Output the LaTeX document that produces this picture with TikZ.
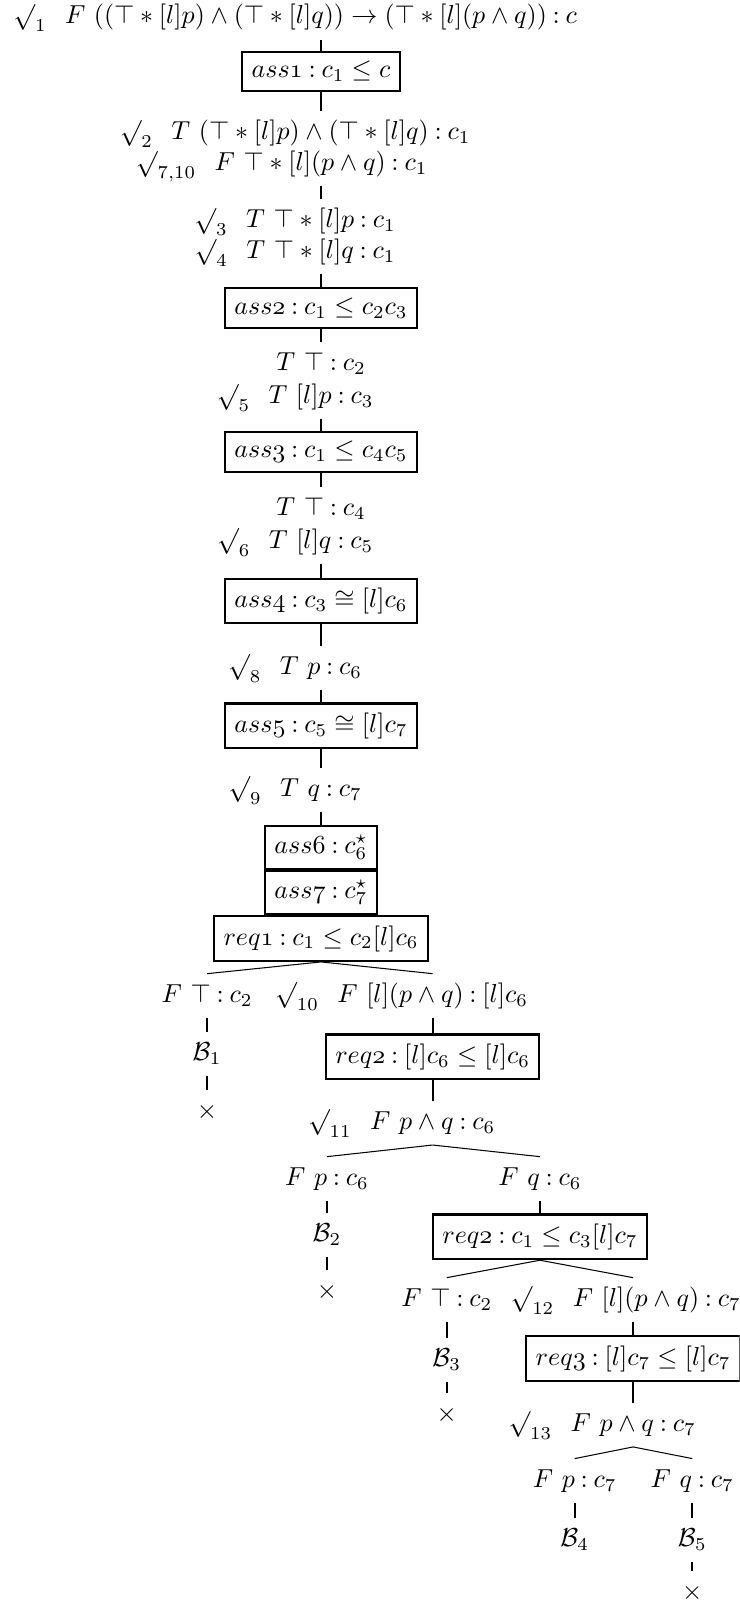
\documentclass[tikz,border=0pt]{standalone}
\usetikzlibrary{positioning}
\newcommand{\chkd}[1]{{\smash{\surd}\vphantom{)}}_{#1}}
\newcommand{\tcol}{\mathbin{:}}
\tikzset{
  fml/.style={inner sep=3.33pt, text height=7.5pt, text depth=2.5pt},
  chkl/.style={inner sep=3.33pt},
  asmbox/.style={draw, line width=0.8pt, inner sep=3.6pt},
  stemline/.style={line width=0.8pt},
  forkline/.style={line width=0.4pt}
}
\begin{document}
\begin{tikzpicture}[x=1.0cm,y=1.0cm]
\useasboundingbox (0,0) rectangle (10.00,-21.70);
\clip (0,0) rectangle (10.00,-21.70);
% main branch
\node[fml] (f1) at (4.34,-0.235) {$F\ ((\top*[l]p)\wedge(\top*[l]q))\rightarrow(\top*[l](p\wedge q))\tcol c$};
\node[chkl, base left=0pt of f1] {$\chkd{1}$};
\node[asmbox] (a1) at (4.34,-0.968) {$ass\mathnormal{1}\tcol c_1\leq c$};
\node[fml] (f2a) at (4.34,-1.798) {$T\ (\top*[l]p)\wedge(\top*[l]q)\tcol c_1$};
\node[chkl, base left=0pt of f2a] {$\chkd{2}$};
\node[fml] (f2b) at (4.34,-2.217) {$F\ \top*[l](p\wedge q)\tcol c_1$};
\node[chkl, base left=0pt of f2b] {$\chkd{7,10}$};
\node[fml] (f3a) at (4.34,-2.988) {$T\ \top*[l]p\tcol c_1$};
\node[chkl, base left=0pt of f3a] {$\chkd{3}$};
\node[fml] (f3b) at (4.34,-3.407) {$T\ \top*[l]q\tcol c_1$};
\node[chkl, base left=0pt of f3b] {$\chkd{4}$};
\node[asmbox] (a2) at (4.34,-4.164) {$ass\mathnormal{2}\tcol c_1\leq c_2c_3$};
\node[fml] (f4a) at (4.34,-4.921) {$T\ \top\tcol c_2$};
\node[fml] (f4b) at (4.34,-5.367) {$T\ [l]p\tcol c_3$};
\node[chkl, base left=0pt of f4b] {$\chkd{5}$};
\node[asmbox] (a3) at (4.34,-6.110) {$ass\mathnormal{3}\tcol c_1\leq c_4c_5$};
\node[fml] (f5a) at (4.34,-6.881) {$T\ \top\tcol c_4$};
\node[fml] (f5b) at (4.34,-7.327) {$T\ [l]q\tcol c_5$};
\node[chkl, base left=0pt of f5b] {$\chkd{6}$};
\node[asmbox] (a4) at (4.34,-8.125) {$ass\mathnormal{4}\tcol c_3\cong[l]c_6$};
\node[fml] (f6) at (4.34,-9.030) {$T\ p\tcol c_6$};
\node[chkl, base left=0pt of f6] {$\chkd{8}$};
\node[asmbox] (a5) at (4.34,-9.814) {$ass\mathnormal{5}\tcol c_5\cong[l]c_7$};
\node[fml] (f7) at (4.34,-10.679) {$T\ q\tcol c_7$};
\node[chkl, base left=0pt of f7] {$\chkd{9}$};
\node[asmbox] (a6) at (4.34,-11.457) {$ass\mathnormal{6}\tcol c_6^{\star}$};
\node[asmbox, below=0pt of a6] (a7) {$ass\mathnormal{7}\tcol c_7^{\star}$};
\node[asmbox, below=0pt of a7] (r1) {$req\mathnormal{1}\tcol c_1\leq c_2[l]c_6$};
\draw[stemline] (f1.south) -- (a1.north);
\draw[stemline] (a1.south) -- (f2a.north);
\draw[stemline] (f2b.south) -- (f3a.north);
\draw[stemline] (f3b.south) -- (a2.north);
\draw[stemline] (a2.south) -- (f4a.north);
\draw[stemline] (f4b.south) -- (a3.north);
\draw[stemline] (a3.south) -- (f5a.north);
\draw[stemline] (f5b.south) -- (a4.north);
\draw[stemline] (a4.south) -- (f6.north);
\draw[stemline] (f6.south) -- (a5.north);
\draw[stemline] (a5.south) -- (f7.north);
\draw[stemline] (f7.south) -- (a6.north);
% first split
\node[fml] (g1) at (2.80,-13.464) {$F\ \top\tcol c_2$};
\node[fml] (g2) at (5.85,-13.464) {$F\ [l](p\wedge q)\tcol [l]c_6$};
\node[chkl, base left=0pt of g2] {$\chkd{10}$};
\node[fml] (b1) at (2.80,-14.248) {$\mathcal{B}_1$};
\node[fml] (x1) at (2.80,-15.032) {$\times$};
\node[asmbox] (r2) at (5.85,-14.289) {$req\mathnormal{2}\tcol [l]c_6\leq[l]c_6$};
\node[fml] (g3) at (5.85,-15.181) {$F\ p\wedge q\tcol c_6$};
\node[chkl, base left=0pt of g3] {$\chkd{11}$};
\draw[forkline] (r1.south) -- (g1.north);
\draw[forkline] (r1.south) -- (g2.north);
\draw[stemline] (g1.south) -- (b1.north);
\draw[stemline] (b1.south) -- (x1.north);
\draw[stemline] (g2.south) -- (r2.north);
\draw[stemline] (r2.south) -- (g3.north);
% second split
\node[fml] (g4) at (4.42,-15.938) {$F\ p\tcol c_6$};
\node[fml] (g5) at (7.30,-15.938) {$F\ q\tcol c_6$};
\node[fml] (b2) at (4.42,-16.695) {$\mathcal{B}_2$};
\node[fml] (x2) at (4.42,-17.465) {$\times$};
\node[asmbox] (r3) at (7.30,-16.722) {$req\mathnormal{2}\tcol c_1\leq c_3[l]c_7$};
\draw[forkline] (g3.south) -- (g4.north);
\draw[forkline] (g3.south) -- (g5.north);
\draw[stemline] (g4.south) -- (b2.north);
\draw[stemline] (b2.south) -- (x2.north);
\draw[stemline] (g5.south) -- (r3.north);
% third split
\node[fml] (g6) at (6.04,-17.574) {$F\ \top\tcol c_2$};
\node[fml] (g7) at (8.88,-17.574) {$F\ [l](p\wedge q)\tcol c_7$};
\node[chkl, base left=0pt of g7] {$\chkd{12}$};
\node[fml] (b3) at (6.04,-18.385) {$\mathcal{B}_3$};
\node[fml] (x3) at (6.04,-19.128) {$\times$};
\node[asmbox] (r4) at (8.56,-18.371) {$req\mathnormal{3}\tcol [l]c_7\leq[l]c_7$};
\node[fml] (g8) at (8.56,-19.263) {$F\ p\wedge q\tcol c_7$};
\node[chkl, base left=0pt of g8] {$\chkd{13}$};
\draw[forkline] (r3.south) -- (g6.north);
\draw[forkline] (r3.south) -- (r4 |- g7.north);
\draw[stemline] (g6.south) -- (b3.north);
\draw[stemline] (b3.south) -- (x3.north);
\draw[stemline] (r4 |- g7.south) -- (r4.north);
\draw[stemline] (r4.south) -- (g8.north);
% last split
\node[fml] (g9) at (7.77,-20.020) {$F\ p\tcol c_7$};
\node[fml] (g10) at (9.36,-20.020) {$F\ q\tcol c_7$};
\node[fml] (b4) at (7.77,-20.818) {$\mathcal{B}_4$};
\node[fml] (b5) at (9.36,-20.818) {$\mathcal{B}_5$};
\node[fml] (x5) at (9.36,-21.535) {$\times$};
\draw[forkline] (g8.south) -- (g9.north);
\draw[forkline] (g8.south) -- (g10.north);
\draw[stemline] (g9.south) -- (b4.north);
\draw[stemline] (g10.south) -- (b5.north);
\draw[stemline] (b5.south) -- (x5.north);
\end{tikzpicture}
\end{document}
